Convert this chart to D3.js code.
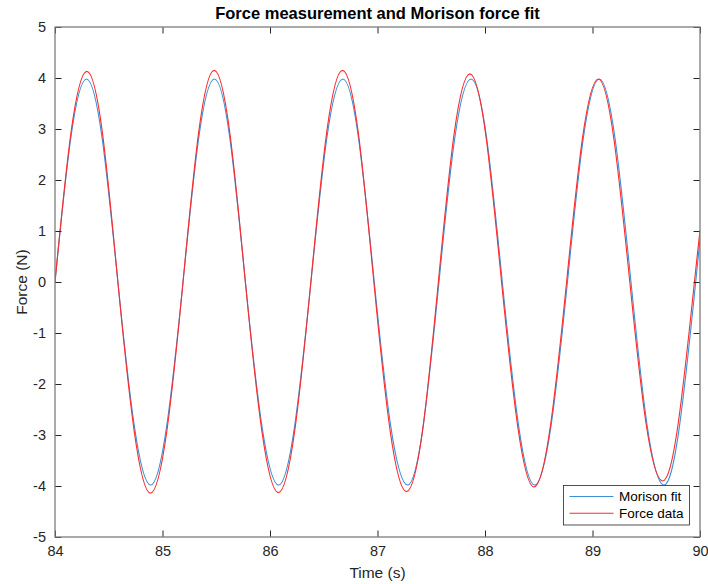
<!DOCTYPE html>
<html>
<head>
<meta charset="utf-8">
<script src="https://cdn.jsdelivr.net/npm/d3@7"></script>
<style>
  html, body { margin: 0; padding: 0; background: #fff; }
  svg { display: block; font-family: "Liberation Sans", Arial, Helvetica, sans-serif; }
</style>
</head>
<body>
<svg id="chart" width="708" height="584"></svg>
<script>
// Morison fit samples (time in s, force in N)
const fitTime = [
  84.000, 84.146, 84.293, 84.439, 84.585, 84.737, 84.890, 85.040, 85.191, 85.336,
  85.483, 85.627, 85.771, 85.924, 86.080, 86.230, 86.381, 86.528, 86.678, 86.824,
  86.970, 87.122, 87.280, 87.426, 87.572, 87.718, 87.870, 88.016, 88.161, 88.312,
  88.462, 88.615, 88.767, 88.914, 89.064, 89.210, 89.358, 89.508, 89.660, 89.810,
  89.960, 90.000
];
const fitForce = [
  0.00, 2.81, 3.98, 2.81, 0.00, -2.81, -3.98, -2.81, 0.00, 2.81,
  3.98, 2.81, 0.00, -2.81, -3.98, -2.81, 0.00, 2.81, 3.98, 2.81,
  0.00, -2.81, -3.98, -2.81, 0.00, 2.81, 3.98, 2.81, 0.00, -2.81,
  -3.98, -2.81, 0.00, 2.81, 3.98, 2.81, 0.00, -2.81, -3.98, -2.81,
  0.00, 0.84
];

// Measured force samples (time in s, force in N)
const dataTime = [
  84.000, 84.148, 84.296, 84.441, 84.585, 84.737, 84.888, 85.040, 85.191, 85.336,
  85.481, 85.626, 85.771, 85.924, 86.078, 86.230, 86.380, 86.527, 86.675, 86.822,
  86.966, 87.117, 87.270, 87.420, 87.566, 87.711, 87.860, 88.008, 88.154, 88.305,
  88.456, 88.608, 88.759, 88.906, 89.055, 89.200, 89.347, 89.497, 89.648, 89.798,
  89.948, 90.000
];
const dataForce = [
  0.00, 2.92, 4.13, 2.93, 0.00, -2.93, -4.14, -2.93, 0.00, 2.93,
  4.15, 2.93, 0.00, -2.92, -4.13, -2.92, 0.00, 2.93, 4.15, 2.92,
  0.00, -2.91, -4.11, -2.90, 0.00, 2.88, 4.08, 2.87, 0.00, -2.84,
  -4.02, -2.83, 0.00, 2.81, 3.98, 2.79, 0.00, -2.76, -3.90, -2.76,
  0.00, 1.02
];

const xTicks = [84, 85, 86, 87, 88, 89, 90];
const yTicks = [-5, -4, -3, -2, -1, 0, 1, 2, 3, 4, 5];
const seriesNames = ["Morison fit", "Force data"];
const seriesColors = ["#3a8fd8", "#ff2a2a"];

const svg = d3.select("#chart");
const margin = { left: 55, right: 8, top: 27, bottom: 47 };
const W = 708, H = 584;
const x0 = margin.left, x1 = W - margin.right;
const y0 = H - margin.bottom, y1 = margin.top;

const x = d3.scaleLinear().domain([84, 90]).range([x0, x1]);
const y = d3.scaleLinear().domain([-5, 5]).range([y0, y1]);

const axisColor = "#262626";
const boxColor = "#7d7d7d";
const tickLen = 6.5;
const plainNumber = d => String(d);

// clip the traces to the plot box
svg.append("defs").append("clipPath").attr("id", "plotClip")
  .append("rect").attr("x", x0).attr("y", y1).attr("width", x1 - x0).attr("height", y0 - y1);

const line = d3.line()
  .x(d => x(d[0]))
  .y(d => y(d[1]))
  .curve(d3.curveNatural);

const fitPts = fitTime.map((t, i) => [t, fitForce[i]]);
const dataPts = dataTime.map((t, i) => [t, dataForce[i]]);

const traces = svg.append("g").attr("clip-path", "url(#plotClip)");
traces.append("path").datum(fitPts)
  .attr("d", line).attr("fill", "none")
  .attr("stroke", seriesColors[0]).attr("stroke-width", 1.1);
traces.append("path").datum(dataPts)
  .attr("d", line).attr("fill", "none")
  .attr("stroke", seriesColors[1]).attr("stroke-width", 1.1);

// axes: ticks point inward, labels outside
const xAxisB = d3.axisBottom(x).tickValues(xTicks).tickSizeInner(-tickLen).tickSizeOuter(0).tickPadding(9).tickFormat(plainNumber);
const xAxisT = d3.axisTop(x).tickValues(xTicks).tickSizeInner(-tickLen).tickSizeOuter(0).tickFormat("");
const yAxisL = d3.axisLeft(y).tickValues(yTicks).tickSizeInner(-tickLen).tickSizeOuter(0).tickPadding(9).tickFormat(plainNumber);
const yAxisR = d3.axisRight(y).tickValues(yTicks).tickSizeInner(-tickLen).tickSizeOuter(0).tickFormat("");

function styleAxis(g) {
  g.select(".domain").remove();
  g.selectAll(".tick line").attr("stroke", axisColor).attr("stroke-width", 1);
  g.selectAll(".tick text")
    .attr("fill", axisColor)
    .style("font-size", "14.5px")
    .style("font-family", "'Liberation Sans', Arial, Helvetica, sans-serif");
}

svg.append("g").attr("transform", `translate(0,${y0})`).call(xAxisB).call(styleAxis);
svg.append("g").attr("transform", `translate(0,${y1})`).call(xAxisT).call(styleAxis);
svg.append("g").attr("transform", `translate(${x0},0)`).call(yAxisL).call(styleAxis);
svg.append("g").attr("transform", `translate(${x1},0)`).call(yAxisR).call(styleAxis);

// plot box
svg.append("rect")
  .attr("x", x0).attr("y", y1).attr("width", x1 - x0).attr("height", y0 - y1)
  .attr("fill", "none").attr("stroke", boxColor).attr("stroke-width", 1.3);

// title and axis labels
svg.append("text")
  .attr("x", (x0 + x1) / 2).attr("y", 19)
  .attr("text-anchor", "middle")
  .style("font-size", "16.5px").style("font-weight", "bold")
  .attr("fill", "#000")
  .text("Force measurement and Morison force fit");

svg.append("text")
  .attr("x", (x0 + x1) / 2).attr("y", 578)
  .attr("text-anchor", "middle")
  .style("font-size", "15.5px")
  .attr("fill", axisColor)
  .text("Time (s)");

svg.append("text")
  .attr("transform", `translate(27,${(y0 + y1) / 2}) rotate(-90)`)
  .attr("text-anchor", "middle")
  .style("font-size", "15.5px")
  .attr("fill", axisColor)
  .text("Force (N)");

// legend
const lg = svg.append("g").attr("transform", "translate(563.5,485.5)");
lg.append("rect").attr("width", 126).attr("height", 39.5)
  .attr("fill", "#fff").attr("stroke", axisColor).attr("stroke-width", 0.8);
seriesNames.forEach((name, i) => {
  const yy = 11 + i * 16.8;
  lg.append("line").attr("x1", 6).attr("x2", 50).attr("y1", yy).attr("y2", yy)
    .attr("stroke", seriesColors[i]).attr("stroke-width", 1.1);
  lg.append("text").attr("x", 55.5).attr("y", yy + 4.8)
    .style("font-size", "13.5px").attr("fill", "#000").text(name);
});
</script>
</body>
</html>
